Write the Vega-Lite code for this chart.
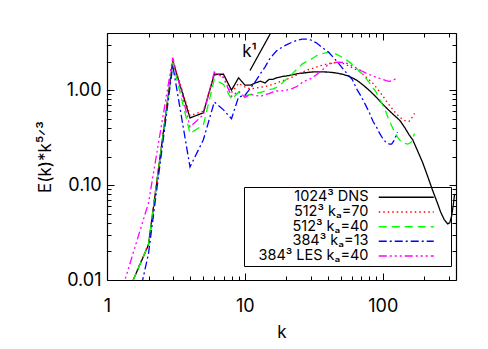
{
  "$schema": "https://vega.github.io/schema/vega-lite/v6.json",
  "width": 349,
  "height": 247,
  "autosize": "none",
  "padding": {"left": 107, "top": 33, "right": 32, "bottom": 69},
  "background": "white",
  "config": {
    "view": {"stroke": null},
    "font": "Inter",
    "axis": {"grid": false, "domainColor": "black", "tickColor": "black", "labelColor": "black", "titleColor": "black", "labelFont": "Inter", "titleFont": "Inter", "labelFontSize": 18, "titleFontSize": 17, "titleFontWeight": "normal", "labelFlush": false, "labelOverlap": false, "labelBound": false, "domainWidth": 1.2, "tickWidth": 1}
  },
  "datasets": {
    "spectra": [
      {"run": "1024³ DNS", "k": 1, "E": 0.0023}, {"run": "1024³ DNS", "k": 2, "E": 0.0235}, {"run": "1024³ DNS", "k": 3, "E": 2.02}, {"run": "1024³ DNS", "k": 4, "E": 0.51}, {"run": "1024³ DNS", "k": 5, "E": 0.577}, {"run": "1024³ DNS", "k": 6, "E": 1.47}, {"run": "1024³ DNS", "k": 7, "E": 1.47}, {"run": "1024³ DNS", "k": 8, "E": 1.0}, {"run": "1024³ DNS", "k": 9, "E": 1.35}, {"run": "1024³ DNS", "k": 10, "E": 1.13}, {"run": "1024³ DNS", "k": 11, "E": 1.13}, {"run": "1024³ DNS", "k": 12, "E": 1.2}, {"run": "1024³ DNS", "k": 13, "E": 1.24}, {"run": "1024³ DNS", "k": 14, "E": 1.19}, {"run": "1024³ DNS", "k": 15, "E": 1.3}, {"run": "1024³ DNS", "k": 16, "E": 1.3}, {"run": "1024³ DNS", "k": 17, "E": 1.35}, {"run": "1024³ DNS", "k": 18, "E": 1.37}, {"run": "1024³ DNS", "k": 19, "E": 1.4}, {"run": "1024³ DNS", "k": 20, "E": 1.41}, {"run": "1024³ DNS", "k": 22, "E": 1.45}, {"run": "1024³ DNS", "k": 24, "E": 1.49}, {"run": "1024³ DNS", "k": 26, "E": 1.51}, {"run": "1024³ DNS", "k": 28, "E": 1.53}, {"run": "1024³ DNS", "k": 30, "E": 1.55}, {"run": "1024³ DNS", "k": 33, "E": 1.56}, {"run": "1024³ DNS", "k": 36, "E": 1.56}, {"run": "1024³ DNS", "k": 40, "E": 1.55}, {"run": "1024³ DNS", "k": 44, "E": 1.53}, {"run": "1024³ DNS", "k": 48, "E": 1.5}, {"run": "1024³ DNS", "k": 52, "E": 1.46}, {"run": "1024³ DNS", "k": 56, "E": 1.41}, {"run": "1024³ DNS", "k": 60, "E": 1.35}, {"run": "1024³ DNS", "k": 65, "E": 1.27}, {"run": "1024³ DNS", "k": 70, "E": 1.17}, {"run": "1024³ DNS", "k": 76, "E": 1.06}, {"run": "1024³ DNS", "k": 82, "E": 0.96}, {"run": "1024³ DNS", "k": 90, "E": 0.84}, {"run": "1024³ DNS", "k": 100, "E": 0.71}, {"run": "1024³ DNS", "k": 110, "E": 0.62}, {"run": "1024³ DNS", "k": 120, "E": 0.55}, {"run": "1024³ DNS", "k": 133, "E": 0.48}, {"run": "1024³ DNS", "k": 145, "E": 0.4}, {"run": "1024³ DNS", "k": 155, "E": 0.34}, {"run": "1024³ DNS", "k": 165, "E": 0.3}, {"run": "1024³ DNS", "k": 180, "E": 0.225}, {"run": "1024³ DNS", "k": 195, "E": 0.172}, {"run": "1024³ DNS", "k": 210, "E": 0.128}, {"run": "1024³ DNS", "k": 230, "E": 0.088}, {"run": "1024³ DNS", "k": 250, "E": 0.064}, {"run": "1024³ DNS", "k": 263, "E": 0.052}, {"run": "1024³ DNS", "k": 280, "E": 0.043}, {"run": "1024³ DNS", "k": 296, "E": 0.039}, {"run": "1024³ DNS", "k": 306, "E": 0.04}, {"run": "1024³ DNS", "k": 316, "E": 0.047}, {"run": "1024³ DNS", "k": 325, "E": 0.062}, {"run": "1024³ DNS", "k": 332, "E": 0.08},

      {"run": "512³ kₐ=70", "k": 1, "E": 0.0023}, {"run": "512³ kₐ=70", "k": 2, "E": 0.024}, {"run": "512³ kₐ=70", "k": 3, "E": 2.05}, {"run": "512³ kₐ=70", "k": 4, "E": 0.54}, {"run": "512³ kₐ=70", "k": 5, "E": 0.6}, {"run": "512³ kₐ=70", "k": 6, "E": 1.45}, {"run": "512³ kₐ=70", "k": 7, "E": 1.4}, {"run": "512³ kₐ=70", "k": 8, "E": 0.94}, {"run": "512³ kₐ=70", "k": 9, "E": 1.18}, {"run": "512³ kₐ=70", "k": 10, "E": 1.08}, {"run": "512³ kₐ=70", "k": 11, "E": 1.03}, {"run": "512³ kₐ=70", "k": 12, "E": 1.05}, {"run": "512³ kₐ=70", "k": 13, "E": 1.07}, {"run": "512³ kₐ=70", "k": 14, "E": 1.09}, {"run": "512³ kₐ=70", "k": 15, "E": 1.12}, {"run": "512³ kₐ=70", "k": 16, "E": 1.15}, {"run": "512³ kₐ=70", "k": 17, "E": 1.19}, {"run": "512³ kₐ=70", "k": 18, "E": 1.23}, {"run": "512³ kₐ=70", "k": 20, "E": 1.3}, {"run": "512³ kₐ=70", "k": 22, "E": 1.37}, {"run": "512³ kₐ=70", "k": 25, "E": 1.5}, {"run": "512³ kₐ=70", "k": 28, "E": 1.62}, {"run": "512³ kₐ=70", "k": 31, "E": 1.7}, {"run": "512³ kₐ=70", "k": 35, "E": 1.8}, {"run": "512³ kₐ=70", "k": 40, "E": 1.9}, {"run": "512³ kₐ=70", "k": 44, "E": 1.94}, {"run": "512³ kₐ=70", "k": 48, "E": 1.95}, {"run": "512³ kₐ=70", "k": 52, "E": 1.9}, {"run": "512³ kₐ=70", "k": 57, "E": 1.8}, {"run": "512³ kₐ=70", "k": 62, "E": 1.68}, {"run": "512³ kₐ=70", "k": 68, "E": 1.57}, {"run": "512³ kₐ=70", "k": 75, "E": 1.4}, {"run": "512³ kₐ=70", "k": 80, "E": 1.28}, {"run": "512³ kₐ=70", "k": 85, "E": 1.18}, {"run": "512³ kₐ=70", "k": 92, "E": 1.02}, {"run": "512³ kₐ=70", "k": 100, "E": 0.87}, {"run": "512³ kₐ=70", "k": 106, "E": 0.77}, {"run": "512³ kₐ=70", "k": 112, "E": 0.69}, {"run": "512³ kₐ=70", "k": 119, "E": 0.62}, {"run": "512³ kₐ=70", "k": 126, "E": 0.56}, {"run": "512³ kₐ=70", "k": 133, "E": 0.52}, {"run": "512³ kₐ=70", "k": 140, "E": 0.49}, {"run": "512³ kₐ=70", "k": 148, "E": 0.47}, {"run": "512³ kₐ=70", "k": 155, "E": 0.47}, {"run": "512³ kₐ=70", "k": 160, "E": 0.49}, {"run": "512³ kₐ=70", "k": 166, "E": 0.54}, {"run": "512³ kₐ=70", "k": 170, "E": 0.57},

      {"run": "512³ kₐ=40", "k": 1, "E": 0.0023}, {"run": "512³ kₐ=40", "k": 2, "E": 0.0235}, {"run": "512³ kₐ=40", "k": 3, "E": 1.95}, {"run": "512³ kₐ=40", "k": 4, "E": 0.35}, {"run": "512³ kₐ=40", "k": 5, "E": 0.43}, {"run": "512³ kₐ=40", "k": 6, "E": 1.3}, {"run": "512³ kₐ=40", "k": 7, "E": 1.15}, {"run": "512³ kₐ=40", "k": 8, "E": 0.8}, {"run": "512³ kₐ=40", "k": 9, "E": 0.95}, {"run": "512³ kₐ=40", "k": 10, "E": 0.87}, {"run": "512³ kₐ=40", "k": 11, "E": 0.9}, {"run": "512³ kₐ=40", "k": 12, "E": 0.92}, {"run": "512³ kₐ=40", "k": 13, "E": 0.95}, {"run": "512³ kₐ=40", "k": 14, "E": 0.98}, {"run": "512³ kₐ=40", "k": 15, "E": 1.01}, {"run": "512³ kₐ=40", "k": 16, "E": 1.03}, {"run": "512³ kₐ=40", "k": 17, "E": 1.07}, {"run": "512³ kₐ=40", "k": 18, "E": 1.13}, {"run": "512³ kₐ=40", "k": 19, "E": 1.22}, {"run": "512³ kₐ=40", "k": 20, "E": 1.3}, {"run": "512³ kₐ=40", "k": 22, "E": 1.48}, {"run": "512³ kₐ=40", "k": 24, "E": 1.68}, {"run": "512³ kₐ=40", "k": 26, "E": 1.88}, {"run": "512³ kₐ=40", "k": 28, "E": 2.0}, {"run": "512³ kₐ=40", "k": 30, "E": 2.1}, {"run": "512³ kₐ=40", "k": 33, "E": 2.3}, {"run": "512³ kₐ=40", "k": 36, "E": 2.42}, {"run": "512³ kₐ=40", "k": 40, "E": 2.5}, {"run": "512³ kₐ=40", "k": 43, "E": 2.5}, {"run": "512³ kₐ=40", "k": 46, "E": 2.4}, {"run": "512³ kₐ=40", "k": 50, "E": 2.25}, {"run": "512³ kₐ=40", "k": 54, "E": 2.1}, {"run": "512³ kₐ=40", "k": 58, "E": 1.95}, {"run": "512³ kₐ=40", "k": 64, "E": 1.72}, {"run": "512³ kₐ=40", "k": 72, "E": 1.45}, {"run": "512³ kₐ=40", "k": 80, "E": 1.2}, {"run": "512³ kₐ=40", "k": 90, "E": 0.94}, {"run": "512³ kₐ=40", "k": 96, "E": 0.78}, {"run": "512³ kₐ=40", "k": 104, "E": 0.62}, {"run": "512³ kₐ=40", "k": 112, "E": 0.47}, {"run": "512³ kₐ=40", "k": 120, "E": 0.38}, {"run": "512³ kₐ=40", "k": 128, "E": 0.32}, {"run": "512³ kₐ=40", "k": 135, "E": 0.29}, {"run": "512³ kₐ=40", "k": 145, "E": 0.275}, {"run": "512³ kₐ=40", "k": 152, "E": 0.27}, {"run": "512³ kₐ=40", "k": 160, "E": 0.28}, {"run": "512³ kₐ=40", "k": 166, "E": 0.32}, {"run": "512³ kₐ=40", "k": 170, "E": 0.35},

      {"run": "384³ kₐ=13", "k": 1, "E": 0.0002}, {"run": "384³ kₐ=13", "k": 2, "E": 0.019}, {"run": "384³ kₐ=13", "k": 3, "E": 1.82}, {"run": "384³ kₐ=13", "k": 4, "E": 0.155}, {"run": "384³ kₐ=13", "k": 5, "E": 0.3}, {"run": "384³ kₐ=13", "k": 6, "E": 0.75}, {"run": "384³ kₐ=13", "k": 7, "E": 0.62}, {"run": "384³ kₐ=13", "k": 8, "E": 0.5}, {"run": "384³ kₐ=13", "k": 9, "E": 0.85}, {"run": "384³ kₐ=13", "k": 10, "E": 0.88}, {"run": "384³ kₐ=13", "k": 11, "E": 1.05}, {"run": "384³ kₐ=13", "k": 12, "E": 1.25}, {"run": "384³ kₐ=13", "k": 13, "E": 1.5}, {"run": "384³ kₐ=13", "k": 14, "E": 1.75}, {"run": "384³ kₐ=13", "k": 15, "E": 2.1}, {"run": "384³ kₐ=13", "k": 16, "E": 2.35}, {"run": "384³ kₐ=13", "k": 17, "E": 2.6}, {"run": "384³ kₐ=13", "k": 18, "E": 2.75}, {"run": "384³ kₐ=13", "k": 20, "E": 3.0}, {"run": "384³ kₐ=13", "k": 22, "E": 3.2}, {"run": "384³ kₐ=13", "k": 24, "E": 3.35}, {"run": "384³ kₐ=13", "k": 26, "E": 3.45}, {"run": "384³ kₐ=13", "k": 28, "E": 3.45}, {"run": "384³ kₐ=13", "k": 30, "E": 3.38}, {"run": "384³ kₐ=13", "k": 33, "E": 3.15}, {"run": "384³ kₐ=13", "k": 36, "E": 2.85}, {"run": "384³ kₐ=13", "k": 40, "E": 2.55}, {"run": "384³ kₐ=13", "k": 44, "E": 2.2}, {"run": "384³ kₐ=13", "k": 48, "E": 1.9}, {"run": "384³ kₐ=13", "k": 52, "E": 1.65}, {"run": "384³ kₐ=13", "k": 56, "E": 1.45}, {"run": "384³ kₐ=13", "k": 60, "E": 1.3}, {"run": "384³ kₐ=13", "k": 65, "E": 1.02}, {"run": "384³ kₐ=13", "k": 70, "E": 0.85}, {"run": "384³ kₐ=13", "k": 75, "E": 0.7}, {"run": "384³ kₐ=13", "k": 80, "E": 0.58}, {"run": "384³ kₐ=13", "k": 85, "E": 0.47}, {"run": "384³ kₐ=13", "k": 90, "E": 0.41}, {"run": "384³ kₐ=13", "k": 95, "E": 0.35}, {"run": "384³ kₐ=13", "k": 100, "E": 0.31}, {"run": "384³ kₐ=13", "k": 106, "E": 0.28}, {"run": "384³ kₐ=13", "k": 112, "E": 0.27}, {"run": "384³ kₐ=13", "k": 116, "E": 0.27}, {"run": "384³ kₐ=13", "k": 120, "E": 0.29}, {"run": "384³ kₐ=13", "k": 126, "E": 0.34}, {"run": "384³ kₐ=13", "k": 128, "E": 0.36},

      {"run": "384³ LES kₐ=40", "k": 1, "E": 0.0024}, {"run": "384³ LES kₐ=40", "k": 2, "E": 0.065}, {"run": "384³ LES kₐ=40", "k": 3, "E": 2.2}, {"run": "384³ LES kₐ=40", "k": 4, "E": 0.41}, {"run": "384³ LES kₐ=40", "k": 5, "E": 0.55}, {"run": "384³ LES kₐ=40", "k": 6, "E": 1.55}, {"run": "384³ LES kₐ=40", "k": 7, "E": 1.35}, {"run": "384³ LES kₐ=40", "k": 8, "E": 0.86}, {"run": "384³ LES kₐ=40", "k": 9, "E": 0.98}, {"run": "384³ LES kₐ=40", "k": 10, "E": 0.84}, {"run": "384³ LES kₐ=40", "k": 11, "E": 0.9}, {"run": "384³ LES kₐ=40", "k": 12, "E": 0.88}, {"run": "384³ LES kₐ=40", "k": 13, "E": 0.86}, {"run": "384³ LES kₐ=40", "k": 14, "E": 0.9}, {"run": "384³ LES kₐ=40", "k": 15, "E": 0.92}, {"run": "384³ LES kₐ=40", "k": 16, "E": 0.96}, {"run": "384³ LES kₐ=40", "k": 17, "E": 0.98}, {"run": "384³ LES kₐ=40", "k": 18, "E": 0.98}, {"run": "384³ LES kₐ=40", "k": 20, "E": 1.0}, {"run": "384³ LES kₐ=40", "k": 22, "E": 1.04}, {"run": "384³ LES kₐ=40", "k": 24, "E": 1.1}, {"run": "384³ LES kₐ=40", "k": 26, "E": 1.2}, {"run": "384³ LES kₐ=40", "k": 28, "E": 1.27}, {"run": "384³ LES kₐ=40", "k": 30, "E": 1.32}, {"run": "384³ LES kₐ=40", "k": 33, "E": 1.45}, {"run": "384³ LES kₐ=40", "k": 36, "E": 1.6}, {"run": "384³ LES kₐ=40", "k": 40, "E": 1.85}, {"run": "384³ LES kₐ=40", "k": 44, "E": 1.95}, {"run": "384³ LES kₐ=40", "k": 48, "E": 1.97}, {"run": "384³ LES kₐ=40", "k": 52, "E": 1.96}, {"run": "384³ LES kₐ=40", "k": 56, "E": 1.9}, {"run": "384³ LES kₐ=40", "k": 60, "E": 1.8}, {"run": "384³ LES kₐ=40", "k": 64, "E": 1.72}, {"run": "384³ LES kₐ=40", "k": 70, "E": 1.6}, {"run": "384³ LES kₐ=40", "k": 75, "E": 1.52}, {"run": "384³ LES kₐ=40", "k": 80, "E": 1.46}, {"run": "384³ LES kₐ=40", "k": 90, "E": 1.36}, {"run": "384³ LES kₐ=40", "k": 100, "E": 1.3}, {"run": "384³ LES kₐ=40", "k": 106, "E": 1.26}, {"run": "384³ LES kₐ=40", "k": 112, "E": 1.24}, {"run": "384³ LES kₐ=40", "k": 118, "E": 1.26}, {"run": "384³ LES kₐ=40", "k": 122, "E": 1.3}, {"run": "384³ LES kₐ=40", "k": 126, "E": 1.35}
    ],
    "kline": [{"k": 10.9, "E": 1.61}, {"k": 15.4, "E": 4.0}]
  },
  "layer": [
    {
      "data": {"name": "spectra"},
      "mark": {"type": "line", "strokeWidth": 1.3, "clip": true},
      "encoding": {
        "x": {"field": "k", "type": "quantitative",
          "scale": {"type": "log", "domain": [1, 340], "nice": false},
          "axis": {"orient": "bottom", "title": "k", "titlePadding": 6,
            "values": [1, 2, 3, 4, 5, 6, 7, 8, 9, 10, 20, 30, 40, 50, 60, 70, 80, 90, 100, 200, 300],
            "labelExpr": "abs(log(datum.value)/LN10 - round(log(datum.value)/LN10)) < 0.000001 ? format(datum.value, 'd') : ''",
            "tickSize": {"condition": {"test": "abs(log(datum.value)/LN10 - round(log(datum.value)/LN10)) < 0.000001", "value": -7}, "value": -4},
            "labelPadding": 24}},
        "y": {"field": "E", "type": "quantitative",
          "scale": {"type": "log", "domain": [0.01, 4], "nice": false},
          "axis": {"orient": "left", "title": "E(k)*k⁵ᐟ³", "titlePadding": 12,
            "values": [0.01, 0.02, 0.03, 0.04, 0.05, 0.06, 0.07, 0.08, 0.09, 0.1, 0.2, 0.3, 0.4, 0.5, 0.6, 0.7, 0.8, 0.9, 1, 2, 3, 4],
            "labelExpr": "abs(log(datum.value)/LN10 - round(log(datum.value)/LN10)) < 0.000001 ? format(datum.value, '.2f') : ''",
            "tickSize": {"condition": {"test": "abs(log(datum.value)/LN10 - round(log(datum.value)/LN10)) < 0.000001", "value": -7}, "value": -4},
            "labelPadding": 13}},
        "color": {"field": "run", "type": "nominal",
          "scale": {"domain": ["1024³ DNS", "512³ kₐ=70", "512³ kₐ=40", "384³ kₐ=13", "384³ LES kₐ=40"], "range": ["#000000", "#ff0000", "#00ff00", "#0000ff", "#ff00ff"]},
          "legend": {"title": null, "orient": "none", "legendX": 137, "legendY": 154, "direction": "vertical", "symbolType": "M-27.5,0H27.5M38.5,0", "symbolSize": 4, "symbolStrokeWidth": 1.5, "symbolFillColor": "transparent", "symbolOffset": 152, "rowPadding": -0.3, "labelAlign": "right", "labelOffset": -45, "labelFontSize": 14.5, "labelFont": "Inter", "labelColor": "black", "strokeColor": "black", "fillColor": "transparent", "padding": 3, "cornerRadius": 0}},
        "strokeDash": {"field": "run", "type": "nominal",
          "scale": {"domain": ["1024³ DNS", "512³ kₐ=70", "512³ kₐ=40", "384³ kₐ=13", "384³ LES kₐ=40"], "range": [[1, 0], [1.5, 3], [8, 5], [8, 3, 2, 3], [8, 3, 2, 3, 2, 3, 2, 3]]},
          "legend": {"title": null, "orient": "none", "legendX": 137, "legendY": 154, "direction": "vertical", "symbolType": "M-27.5,0H27.5M38.5,0", "symbolSize": 4, "symbolStrokeWidth": 1.5, "symbolFillColor": "transparent", "symbolOffset": 152, "rowPadding": -0.3, "labelAlign": "right", "labelOffset": -45, "labelFontSize": 14.5, "labelFont": "Inter", "labelColor": "black", "strokeColor": "black", "fillColor": "transparent", "padding": 3, "cornerRadius": 0}}
      }
    },
    {
      "data": {"name": "kline"},
      "mark": {"type": "line", "color": "black", "strokeWidth": 1.3, "clip": true},
      "encoding": {
        "x": {"field": "k", "type": "quantitative",
          "axis": {"orient": "top", "title": null, "labels": false,
            "values": [1, 2, 3, 4, 5, 6, 7, 8, 9, 10, 20, 30, 40, 50, 60, 70, 80, 90, 100, 200, 300],
            "tickSize": {"condition": {"test": "abs(log(datum.value)/LN10 - round(log(datum.value)/LN10)) < 0.000001", "value": -7}, "value": -4}}},
        "y": {"field": "E", "type": "quantitative",
          "axis": {"orient": "right", "title": null, "labels": false,
            "values": [0.01, 0.02, 0.03, 0.04, 0.05, 0.06, 0.07, 0.08, 0.09, 0.1, 0.2, 0.3, 0.4, 0.5, 0.6, 0.7, 0.8, 0.9, 1, 2, 3, 4],
            "tickSize": {"condition": {"test": "abs(log(datum.value)/LN10 - round(log(datum.value)/LN10)) < 0.000001", "value": -7}, "value": -4}}}
      }
    },
    {
      "data": {"values": [{}]},
      "mark": {"type": "text", "text": "k¹", "fontSize": 17, "font": "Inter", "color": "black", "baseline": "middle"},
      "encoding": {
        "x": {"datum": 10.8, "type": "quantitative", "axis": null},
        "y": {"datum": 2.5, "type": "quantitative", "axis": null}
      }
    }
  ]
}
